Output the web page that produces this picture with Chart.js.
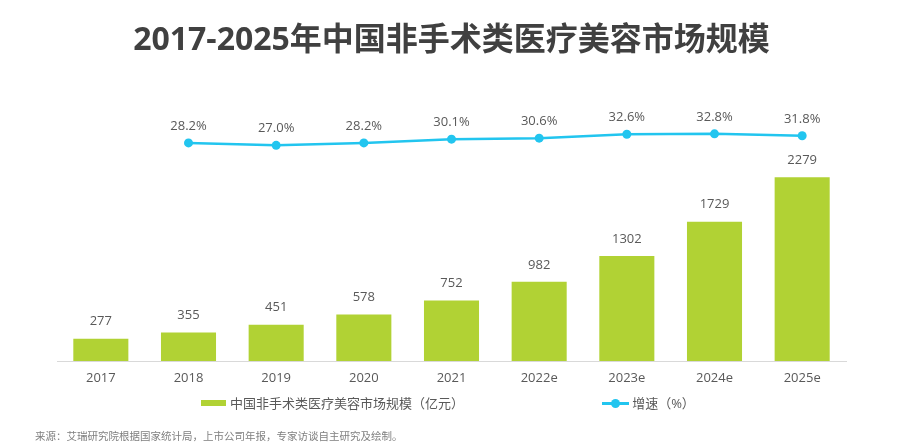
<!DOCTYPE html>
<html lang="zh-CN">
<head>
<meta charset="utf-8">
<title>2017-2025年中国非手术类医疗美容市场规模</title>
<script src="https://cdn.jsdelivr.net/npm/chart.js@4.4.1/dist/chart.umd.min.js"></script>
<style>
  html, body { margin: 0; padding: 0; background: #fff; }
  .wrap { position: relative; width: 904px; height: 446px; font-family: "Open Sans", "Noto Sans CJK SC", sans-serif; }
  canvas { display: block; }
  .legend { position: absolute; left: 0; right: 0; top: 394px; display: flex; justify-content: center; gap: 138px; padding-right: 8px; font-size: 13px; color: #595959; line-height: 18px; }
  .legend-item { display: flex; align-items: center; }
  .swatch-bar { width: 25px; height: 6px; margin-right: 4px; }
  .swatch-line { position: relative; width: 27px; height: 3px; margin-right: 3px; }
  .swatch-line i { position: absolute; left: 9px; top: -3px; width: 9px; height: 9px; border-radius: 50%; }
  .source { position: absolute; left: 35px; top: 428px; font-size: 10.5px; color: #7f7f7f; }
</style>
</head>
<body>
<div class="wrap">
  <canvas id="chart" width="904" height="446"></canvas>
  <div class="legend" id="legend"></div>
  <div class="source">来源：艾瑞研究院根据国家统计局，上市公司年报，专家访谈自主研究及绘制。</div>
</div>
<script>
// 数据
const categories = ['2017', '2018', '2019', '2020', '2021', '2022e', '2023e', '2024e', '2025e'];
const marketSize = [277, 355, 451, 578, 752, 982, 1302, 1729, 2279];
const growthRate = [null, 28.2, 27.0, 28.2, 30.1, 30.6, 32.6, 32.8, 31.8];

const BAR_COLOR = '#b1d234';
const LINE_COLOR = '#22c5ef';
const LABEL_COLOR = '#595959';
const AXIS_COLOR = '#d9d9d9';
const FONT_FAMILY = '"Open Sans", "Noto Sans CJK SC", sans-serif';

// 柱子和折线点上方的数值标签
const valueLabels = {
  id: 'valueLabels',
  afterDatasetsDraw(chart) {
    const { ctx } = chart;
    ctx.save();
    ctx.font = `13px ${FONT_FAMILY}`;
    ctx.fillStyle = LABEL_COLOR;
    ctx.textAlign = 'center';
    ctx.textBaseline = 'middle';
    chart.data.datasets.forEach((ds, i) => {
      const meta = chart.getDatasetMeta(i);
      meta.data.forEach((el, j) => {
        const v = ds.data[j];
        if (v == null) return;
        const text = ds.type === 'line' ? `${v.toFixed(1)}%` : String(v);
        ctx.fillText(text, el.x, el.y - 17);
      });
    });
    ctx.restore();
  },
};

const chart = new Chart(document.getElementById('chart'), {
  data: {
    labels: categories,
    datasets: [
      {
        type: 'line',
        label: '增速（%）',
        data: growthRate,
        yAxisID: 'y2',
        borderColor: LINE_COLOR,
        backgroundColor: LINE_COLOR,
        borderWidth: 2.5,
        pointRadius: 4.5,
        pointBorderWidth: 0,
        pointBackgroundColor: LINE_COLOR,
        tension: 0,
        order: 0,
      },
      {
        type: 'bar',
        label: '中国非手术类医疗美容市场规模（亿元）',
        data: marketSize,
        yAxisID: 'y',
        backgroundColor: BAR_COLOR,
        borderWidth: 0,
        categoryPercentage: 1,
        barPercentage: 0.628,
        order: 1,
      },
    ],
  },
  options: {
    responsive: false,
    animation: false,
    layout: { padding: { left: 57, right: 58, top: 0, bottom: 61 } },
    plugins: {
      legend: { display: false },
      tooltip: { enabled: false },
      title: {
        display: true,
        text: '2017-2025年中国非手术类医疗美容市场规模',
        color: '#404040',
        font: { family: FONT_FAMILY, size: 32, weight: 'bold', lineHeight: 1.2 },
        padding: { top: 22, bottom: 34.6 },
      },
    },
    scales: {
      x: {
        grid: { display: false, drawTicks: false },
        border: { display: true, color: AXIS_COLOR, width: 1 },
        ticks: { color: LABEL_COLOR, font: { family: FONT_FAMILY, size: 13 }, padding: 9 },
        afterFit: (scale) => { scale.height = 24; },
      },
      y: { display: false, min: 0, max: 3300 },
      y2: { display: false, position: 'right', min: -81.9, max: 52.4 },
    },
  },
  plugins: [valueLabels],
});

// HTML 图例，按数据集顺序（柱在前）
const legendEl = document.getElementById('legend');
[...chart.data.datasets].reverse().forEach((ds) => {
  const item = document.createElement('div');
  item.className = 'legend-item';
  item.innerHTML = ds.type === 'bar'
    ? `<span class="swatch-bar" style="background:${ds.backgroundColor}"></span>${ds.label}`
    : `<span class="swatch-line" style="background:${ds.borderColor}"><i style="background:${ds.borderColor}"></i></span>${ds.label}`;
  legendEl.appendChild(item);
});
</script>
</body>
</html>
